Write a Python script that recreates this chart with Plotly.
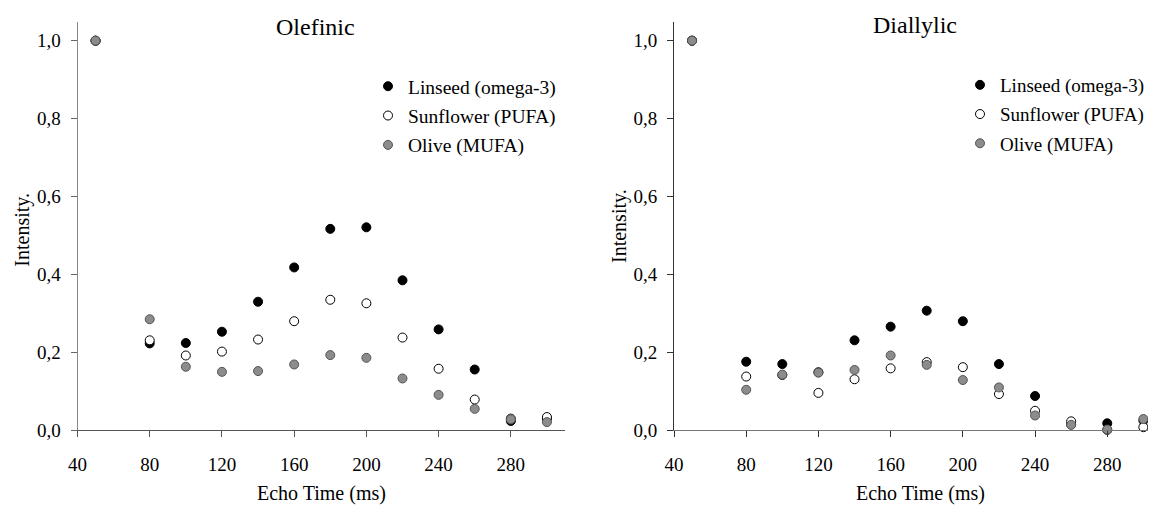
import plotly.graph_objects as go

# ---- data ----
echo_time = [50, 80, 100, 120, 140, 160, 180, 200, 220, 240, 260, 280, 300]

olef_linseed = [1.0, 0.223, 0.224, 0.253, 0.330, 0.418, 0.517, 0.521, 0.385, 0.259, 0.156, 0.024, 0.030]
olef_sunflower = [1.0, 0.231, 0.192, 0.202, 0.233, 0.280, 0.335, 0.326, 0.238, 0.158, 0.079, 0.030, 0.034]
olef_olive = [1.0, 0.285, 0.163, 0.150, 0.152, 0.169, 0.193, 0.186, 0.133, 0.091, 0.055, 0.028, 0.021]

dial_linseed = [1.0, 0.176, 0.170, 0.149, 0.231, 0.266, 0.307, 0.280, 0.170, 0.088, 0.015, 0.018, 0.025]
dial_sunflower = [1.0, 0.138, 0.142, 0.096, 0.131, 0.159, 0.175, 0.162, 0.093, 0.050, 0.023, 0.001, 0.008]
dial_olive = [1.0, 0.104, 0.143, 0.148, 0.155, 0.192, 0.168, 0.129, 0.110, 0.038, 0.014, 0.002, 0.029]

series_names = ["Linseed (omega-3)", "Sunflower (PUFA)", "Olive (MUFA)"]
panel_titles = ["Olefinic", "Diallylic"]
x_ticks = [40, 80, 120, 160, 200, 240, 280]
y_ticks = [0.0, 0.2, 0.4, 0.6, 0.8, 1.0]

FONT = "Liberation Serif, Times New Roman, serif"
styles = [
    dict(color="#000000", line=dict(color="#000000", width=1)),
    dict(color="#ffffff", line=dict(color="#000000", width=1)),
    dict(color="#8c8c8c", line=dict(color="#555555", width=1)),
]

fig = go.Figure()

panels = [
    ("x", "y", "legend", [olef_linseed, olef_sunflower, olef_olive]),
    ("x2", "y2", "legend2", [dial_linseed, dial_sunflower, dial_olive]),
]
for xa, ya, lg, data in panels:
    for name, vals, st in zip(series_names, data, styles):
        fig.add_trace(go.Scatter(
            x=echo_time, y=vals, mode="markers", name=name,
            xaxis=xa, yaxis=ya, legend=lg, legendgroup=lg + name,
            cliponaxis=False,
            marker=dict(size=9, symbol="circle", **st),
        ))

# page body has an 8px margin: figure is placed at (8, 8) in the window
OFF = 8
W, H = 1156 - OFF, 505 - OFF
def px(v):
    return (v - OFF) / W
def py(v):
    return (H - (v - OFF)) / H

axis_common = dict(
    showgrid=False, zeroline=False, showline=True, ticks="outside",
    automargin=False, ticklen=6,
    tickfont=dict(family=FONT, size=19, color="#000"),
)
ydom = [py(430.3), py(21.6)]
fig.update_layout(
    width=W, height=H,
    margin=dict(l=0, r=0, t=0, b=0, pad=0, autoexpand=False),
    paper_bgcolor="white", plot_bgcolor="white",
    separators=", ",
    showlegend=True,
    xaxis=dict(domain=[px(77.5), px(565)], range=[40, 310], tickvals=x_ticks,
               linecolor="#555", tickcolor="#555", ticklabelstandoff=11,
               anchor="y", **axis_common),
    yaxis=dict(domain=ydom, range=[0, 1.049], tickvals=y_ticks, tickformat=".1f",
               linecolor="#888", tickcolor="#666", ticklabelstandoff=6,
               anchor="x", **axis_common),
    xaxis2=dict(domain=[px(674), 1.0], range=[40, 307], tickvals=x_ticks,
                linecolor="#777", tickcolor="#333", ticklabelstandoff=11,
                anchor="y2", **axis_common),
    yaxis2=dict(domain=ydom, range=[0, 1.049], tickvals=y_ticks, tickformat=".1f",
                linecolor="#333", tickcolor="#333", ticklabelstandoff=6,
                anchor="x2", **axis_common),
    legend=dict(x=px(368), y=py(67), xanchor="left", yanchor="top",
                font=dict(family=FONT, size=19.5, color="#000"),
                bgcolor="rgba(0,0,0,0)", traceorder="grouped", tracegroupgap=1,
                itemsizing="trace"),
    legend2=dict(x=px(960), y=py(66), xanchor="left", yanchor="top",
                 font=dict(family=FONT, size=19, color="#000"),
                 bgcolor="rgba(0,0,0,0)", traceorder="grouped", tracegroupgap=1.5,
                 itemsizing="trace"),
)

ann_font = dict(family=FONT, size=20, color="#000")
annotations = [
    dict(text=panel_titles[0], x=px(315.5), y=py(27), font=dict(family=FONT, size=24, color="#000")),
    dict(text=panel_titles[1], x=px(915), y=py(25), font=dict(family=FONT, size=24, color="#000")),
    dict(text="Echo Time (ms)", x=px(321.7), y=py(493), font=ann_font),
    dict(text="Echo Time (ms)", x=px(920), y=py(493), font=ann_font),
    dict(text="Intensity.", x=px(21.7), y=py(230), textangle=-90, font=ann_font),
    dict(text="Intensity.", x=px(619), y=py(226), textangle=-90, font=ann_font),
]
for a in annotations:
    fig.add_annotation(xref="paper", yref="paper", xanchor="center", yanchor="middle",
                       showarrow=False, **a)

fig.write_html("out.html")
